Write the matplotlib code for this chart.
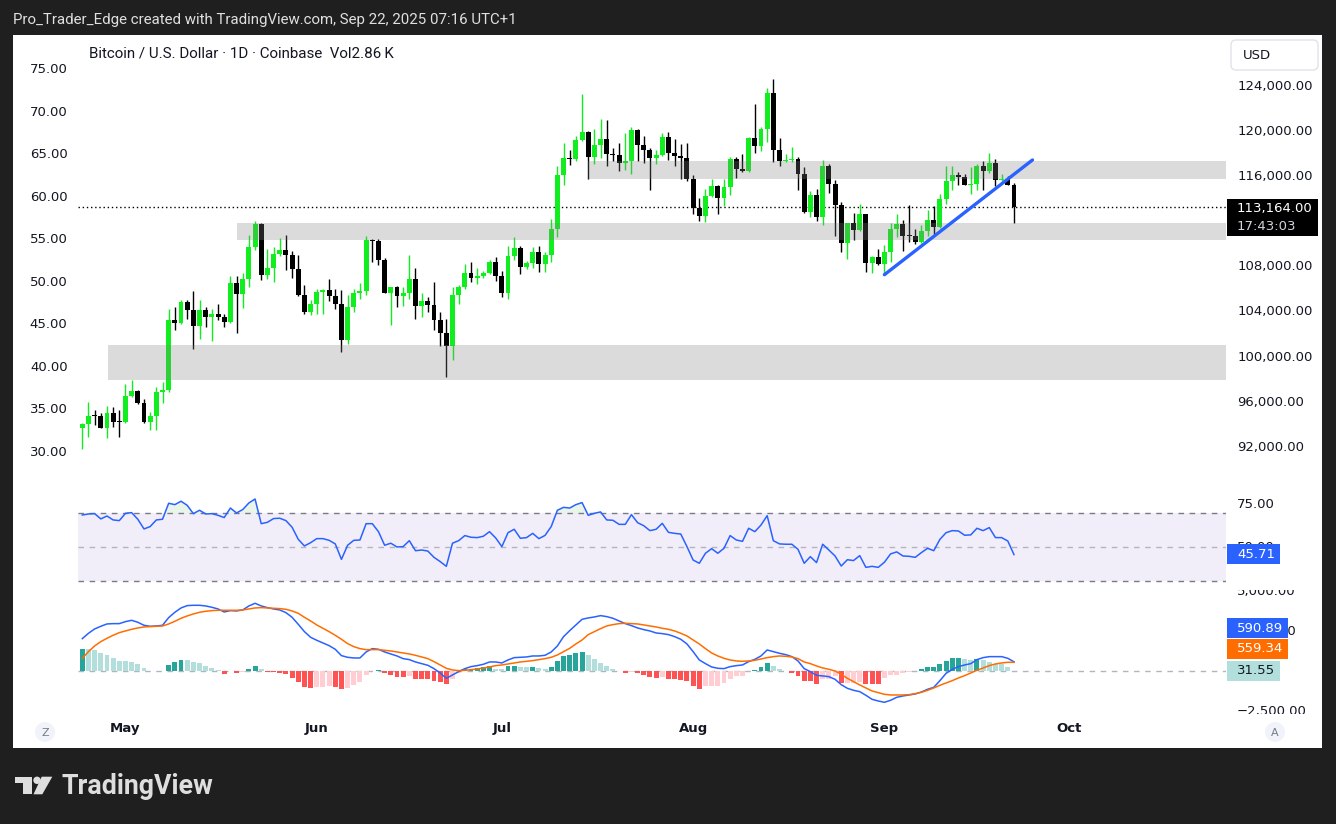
import datetime as dt
import numpy as np
import matplotlib
matplotlib.use("Agg")
import matplotlib.pyplot as plt
from matplotlib.patches import Rectangle, FancyBboxPatch, Circle, Polygon

# ---------------- data ----------------
start_date = dt.date(2025, 4, 24)

opens = [93610, 93930, 94640, 94620, 93610, 94910, 94230, 94120, 96420, 96830,
         95780, 94140, 94650, 96770, 96950, 103160, 102870, 104750, 104020, 102650,
         104020, 103420, 103690, 103420, 103010, 106440, 105490, 106800, 109630, 111670,
         107180, 107770, 109010, 109370, 108920, 107710, 105380, 103900, 104580, 105610,
         105860, 105320, 104610, 101410, 104310, 105550, 105730, 110250, 110200, 108510,
         105580, 106050, 105320, 105550, 106800, 104430, 104840, 104520, 103190, 102030,
         100880, 105380, 106090, 107330, 106910, 107060, 107330, 108330, 107090, 105580,
         108830, 109570, 107890, 108240, 109220, 108150, 108950, 111230, 116020, 117530,
         117440, 119120, 119830, 117650, 118680, 119210, 117910, 117760, 117080, 117260,
         120010, 118710, 118270, 117500, 117820, 119390, 117970, 117700, 117560, 115690,
         113120, 112410, 114160, 115040, 114010, 114960, 117440, 116580, 116380, 119300,
         118620, 120100, 123290, 118270, 117290, 117350, 117410, 116140, 112770, 114250,
         112330, 116820, 115250, 113390, 110000, 111760, 111140, 112560, 108240, 108750,
         108120, 109190, 111230, 111670, 110720, 110640, 110050, 111050, 112030, 111410,
         113890, 115480, 116020, 115870, 115130, 115250, 116820, 116380, 117080, 115600,
         115660, 115160]
highs = [94010, 95880, 95180, 94900, 95530, 95440, 95180, 97480, 97840, 96950,
         96180, 95000, 97240, 97700, 104130, 104310, 104930, 104930, 105730, 104930,
         104300, 104160, 104580, 103700, 107060, 107060, 107300, 110700, 111940, 111760,
         109430, 109660, 110400, 110700, 109300, 108900, 106300, 104930, 105900, 105920,
         106800, 105900, 105860, 105380, 105920, 106440, 110610, 110310, 110340, 108680,
         106100, 106170, 106110, 108920, 107770, 105550, 105200, 106530, 103900, 103280,
         106090, 106260, 108120, 108300, 107770, 107500, 108480, 108770, 107530, 109750,
         110520, 109750, 108390, 109630, 109720, 109220, 112120, 116820, 118860, 118240,
         119480, 123230, 119920, 120100, 120980, 120890, 118440, 118860, 119740, 120280,
         120100, 119480, 118440, 118270, 119740, 119830, 119210, 118750, 118860, 116020,
         113980, 114780, 115660, 115100, 115660, 117610, 117650, 117910, 119350, 122310,
         120300, 123730, 124530, 119300, 117910, 118530, 117610, 116730, 114600, 114780,
         117350, 117000, 115570, 113600, 111800, 112650, 113450, 112600, 108830, 109450,
         109810, 111760, 112560, 112030, 113360, 111230, 111610, 112950, 113270, 114340,
         116820, 116820, 116290, 116140, 116730, 117000, 117260, 117970, 117440, 116110,
         115930, 115310]
lows = [91690, 92810, 93850, 93560, 92720, 93700, 92800, 94000, 96350, 95700,
        94050, 93400, 93400, 95770, 96800, 102270, 102800, 103250, 100610, 101440,
        102560, 101300, 103130, 102560, 102920, 102030, 104190, 106120, 109370, 106700,
        106820, 106560, 108830, 107600, 106900, 105290, 103690, 103600, 103700, 103700,
        104870, 104160, 100350, 101060, 103900, 105020, 105380, 108330, 108060, 105520,
        102750, 104340, 104430, 105020, 103280, 103450, 103900, 102300, 100880, 98130,
        99640, 104600, 105910, 106560, 106380, 106850, 107230, 106650, 105230, 105050,
        108510, 107270, 107710, 107800, 107450, 107450, 108330, 110550, 115130, 116880,
        117260, 119030, 115690, 117030, 117500, 116850, 117230, 116370, 116460, 116140,
        117260, 117080, 114720, 117000, 117730, 117380, 116850, 115690, 115510, 112590,
        111970, 111880, 114040, 112590, 113300, 114280, 115780, 116290, 116290, 118000,
        118180, 118980, 117200, 116850, 117170, 117200, 114720, 112680, 112330, 111970,
        111620, 114460, 110640, 109190, 108570, 110250, 111080, 107420, 107360, 108030,
        107240, 108330, 110550, 109300, 110100, 109900, 110000, 110600, 110820, 111320,
        113420, 114720, 115130, 115100, 114340, 114720, 114720, 116170, 115040, 115480,
        115100, 111720]
closes = [93930, 94640, 94620, 93610, 94910, 94140, 94120, 96420, 96830, 95780,
          94140, 94650, 96770, 96950, 103160, 102870, 104750, 104020, 102650, 104020,
          103450, 103690, 103420, 103010, 106440, 105490, 106800, 109630, 111670, 107180,
          107770, 109010, 109370, 108920, 107710, 105380, 103900, 104580, 105610, 105860,
          105320, 104610, 101410, 104310, 105550, 105730, 110250, 110200, 108510, 105580,
          106050, 105320, 105550, 106800, 104430, 104840, 104520, 103190, 102030, 100880,
          105380, 106090, 107330, 106910, 107060, 107330, 108330, 107090, 105580, 108830,
          109570, 107890, 108240, 109220, 108150, 108950, 111230, 116020, 117530, 117440,
          119120, 119830, 117650, 118680, 119210, 117910, 117760, 117080, 117260, 120010,
          118710, 118270, 117500, 117820, 119390, 117970, 117700, 117560, 115690, 113120,
          112410, 114160, 115040, 114010, 114960, 117440, 116580, 116380, 119300, 118620,
          120100, 123290, 118270, 117290, 117350, 117410, 116140, 112770, 114250, 112330,
          116820, 115250, 113390, 110000, 111760, 111140, 112560, 108240, 108750, 108120,
          109190, 111230, 111670, 110640, 110640, 110050, 111050, 112030, 111410, 113890,
          115480, 116020, 115870, 115130, 115250, 116820, 116380, 117080, 115600, 115660,
          115160, 113164]

rsi = [69.0, 69.6, 69.8, 66.7, 68.4, 66.1, 65.7, 70.0, 70.4, 66.5,
       60.8, 62.2, 66.1, 66.5, 75.9, 75.1, 77.1, 74.7, 69.8, 71.8,
       69.6, 69.8, 68.8, 67.5, 73.1, 70.2, 72.2, 76.1, 78.4, 63.9,
       64.7, 66.9, 67.1, 65.7, 61.8, 54.7, 50.8, 52.7, 55.1, 55.1,
       54.1, 52.0, 42.9, 51.2, 54.1, 54.3, 63.9, 63.9, 59.2, 51.2,
       52.4, 50.2, 50.4, 53.9, 48.0, 48.4, 47.8, 44.1, 41.6, 38.8,
       52.4, 53.9, 56.9, 55.9, 55.7, 56.5, 59.2, 55.5, 50.4, 58.6,
       60.6, 55.3, 55.7, 58.2, 55.1, 57.0, 62.2, 71.8, 73.5, 73.1,
       75.1, 76.3, 68.8, 70.0, 70.8, 66.1, 65.9, 63.5, 63.5, 69.2,
       64.5, 62.7, 59.8, 60.6, 64.1, 58.8, 58.2, 57.8, 50.4, 42.5,
       40.6, 46.5, 49.2, 46.5, 49.4, 56.9, 54.3, 53.5, 61.2, 59.2,
       63.1, 68.6, 53.9, 52.0, 51.8, 51.8, 48.8, 40.6, 44.5, 41.0,
       51.8, 48.4, 44.9, 39.0, 42.7, 42.2, 45.1, 38.2, 38.8, 38.2,
       41.2, 46.1, 47.3, 44.9, 44.7, 44.1, 46.9, 49.4, 48.0, 54.7,
       58.6, 59.8, 59.6, 57.1, 57.3, 61.2, 59.8, 61.6, 55.7, 55.7,
       53.7, 45.71]

macd = [2034, 2367, 2637, 2803, 2948, 2969, 2969, 3093, 3176, 3052,
        2865, 2803, 2823, 2865, 3342, 3675, 3944, 4090, 4110, 4110,
        4069, 3986, 3882, 3695, 3778, 3758, 3820, 4069, 4235, 4069,
        3965, 3882, 3820, 3654, 3363, 2927, 2470, 2118, 1931, 1765,
        1599, 1370, 976, 872, 830, 830, 1204, 1412, 1370, 1204,
        1080, 955, 789, 727, 581, 477, 374, 166, -104, -436,
        -228, -21, 166, 291, 353, 436, 581, 581, 519, 706,
        851, 872, 893, 955, 955, 996, 1204, 1578, 2159, 2533,
        2886, 3239, 3322, 3384, 3467, 3405, 3301, 3135, 2969, 2844,
        2699, 2595, 2512, 2387, 2346, 2284, 2159, 1993, 1702, 1225,
        706, 477, 270, 187, 166, 291, 353, 394, 602, 747,
        955, 1329, 1225, 1121, 1038, 913, 644, 166, -21, -249,
        -291, -332, -498, -830, -1059, -1183, -1266, -1495, -1744, -1848,
        -1931, -1806, -1619, -1536, -1474, -1412, -1287, -1121, -996, -581,
        -125, 125, 291, 394, 477, 727, 851, 913, 913, 913,
        810, 590.89]

signal = [810, 1225, 1578, 1848, 2055, 2242, 2408, 2512, 2616, 2699,
          2761, 2782, 2803, 2823, 2948, 3114, 3301, 3446, 3571, 3675,
          3737, 3778, 3799, 3799, 3799, 3799, 3820, 3882, 3944, 3965,
          3944, 3924, 3903, 3861, 3758, 3612, 3363, 3135, 2886, 2678,
          2470, 2242, 1993, 1723, 1536, 1412, 1349, 1349, 1349, 1308,
          1266, 1204, 1142, 1080, 996, 893, 789, 602, 394, 187,
          83, 42, 62, 104, 145, 208, 270, 353, 394, 457,
          519, 581, 623, 664, 727, 789, 872, 1017, 1225, 1432,
          1702, 1951, 2284, 2470, 2657, 2823, 2906, 2969, 2990, 2969,
          2948, 2886, 2823, 2761, 2678, 2616, 2512, 2367, 2200, 1951,
          1702, 1412, 1142, 955, 810, 706, 644, 623, 644, 685,
          768, 851, 913, 955, 934, 893, 789, 581, 477, 332,
          208, 125, 21, -187, -436, -644, -851, -1038, -1225, -1329,
          -1432, -1474, -1474, -1474, -1453, -1391, -1308, -1183, -1038, -872,
          -727, -581, -415, -270, -104, 62, 208, 353, 457, 519,
          560, 559.34]

hist = [1370, 1370, 1308, 1142, 1017, 830, 644, 623, 581, 477,
        228, 42, 10, 20, 374, 581, 706, 690, 581, 498,
        353, 208, 104, -166, 20, -83, -20, 145, 332, 145,
        -21, -42, -83, -187, -394, -644, -955, -1038, -955, -950,
        -893, -955, -1100, -1017, -830, -664, -249, 21, 83, -125,
        -249, -332, -374, -311, -457, -457, -457, -602, -644, -768,
        -498, -125, 150, 170, 190, 270, 332, 166, 145, 332,
        353, 270, 270, 291, 208, 145, 291, 643, 955, 1017,
        1121, 1204, 1038, 768, 519, 332, 125, 42, -83, -42,
        -83, -228, -332, -394, -332, -457, -477, -560, -602, -913,
        -1100, -913, -905, -893, -747, -477, -311, -270, 42, 83,
        270, 519, 332, 125, 20, -125, -270, -602, -602, -768,
        -498, -490, -291, -747, -740, -706, -664, -789, -800, -810,
        -394, -249, -208, -83, -42, 42, 125, 270, 280, 457,
        623, 830, 840, 768, 685, 768, 685, 602, 457, 457,
        270, 31.55]

month_labels = ["May", "Jun", "Jul", "Aug", "Sep", "Oct"]
month_firsts = [dt.date(2025, m, 1) for m in range(5, 11)]

price_ticks = [92000, 96000, 100000, 104000, 108000, 112000, 116000, 120000, 124000]
left_ticks = [30, 35, 40, 45, 50, 55, 60, 65, 70, 75]
rsi_ticks = [75, 50]
macd_ticks = [5000, 2500, 0, -2500]

zone_start = [82, 25, 4.2]
zone_low = [115690, 110280, 97860]
zone_high = [117260, 111760, 100940]

trend_x = [130, 154]
trend_p = [107175, 117350]

last_price_text = "113,164.00"
countdown_text = "17:43:03"
rsi_last_text = "45.71"
macd_last_text = "590.89"
signal_last_text = "559.34"
hist_last_text = "31.55"

# ---------------- figure ----------------
W, H = 1336, 824
fig = plt.figure(figsize=(W / 100, H / 100), dpi=100)
fig.patch.set_facecolor("#1f1f1f")


def rect(x0, y0, x1, y1):
    return [x0 / W, 1 - y1 / H, (x1 - x0) / W, (y1 - y0) / H]


def fpx(x, y):
    return x / W, 1 - y / H


TXT = "#131722"
FS = 9.5

# background card
bg = fig.add_axes([0, 0, 1, 1], zorder=-5)
bg.set_xlim(0, W)
bg.set_ylim(H, 0)
bg.axis("off")
bg.add_patch(Rectangle((13, 35), 1309, 713, facecolor="white", edgecolor="none"))

x = np.arange(len(closes))
o = np.array(opens, float)
c = np.array(closes, float)
hi = np.array(highs, float)
lo = np.array(lows, float)

PX0, PX1 = 78, 1226
x0_idx = (PX0 - 82.3) / 6.17
x1_idx = (PX1 - 82.3) / 6.17

# ---- main price panel ----
MT, MB = 34, 490
ppp = 4000 / 45.1  # price per pixel

# left scale (separate axes)
axl = fig.add_axes(rect(PX0, MT, PX1, MB), zorder=0.5)
axl.set_facecolor("none")
axl.set_ylim(75 - (MB - 68) / 8.511, 75 + (68 - MT) / 8.511)
for s in axl.spines.values():
    s.set_visible(False)
axl.set_xticks([])
axl.set_yticks(left_ticks)
axl.set_yticklabels([f"{v:.2f}" for v in left_ticks])
axl.tick_params(axis="y", left=False, right=False, length=0, pad=7.5,
                labelsize=FS, labelcolor=TXT, labelleft=True, labelright=False)

ax = fig.add_axes(rect(PX0, MT, PX1, MB), zorder=1)
ax.set_facecolor("none")
ax.set_xlim(x0_idx, x1_idx)
ax.set_ylim(124000 - (MB - 85) * ppp, 124000 + (85 - MT) * ppp)
for s in ax.spines.values():
    s.set_visible(False)
ax.tick_params(axis="x", bottom=False, labelbottom=False)

up = c >= o
GREEN = "#10ee20"
col = np.where(up, GREEN, "#000000")
body_low = np.minimum(o, c)
body_h = np.maximum(np.abs(c - o), 90)
ax.vlines(x, lo, hi, colors=col, linewidth=1.0, zorder=2)
ax.bar(x, body_h, bottom=body_low, width=0.8, color=col, linewidth=0, zorder=2.1)

for xs, zl, zh in zip(zone_start, zone_low, zone_high):
    ax.add_patch(Rectangle((xs, zl), x1_idx - xs + 5, zh - zl,
                           facecolor=(0.5, 0.5, 0.5), alpha=0.28, edgecolor="none", zorder=3))

ax.axhline(c[-1], color="black", linestyle=(0, (1, 2)), linewidth=1.0, zorder=1.5)
ax.plot(trend_x, trend_p, color="#2962ff", linewidth=2.4, solid_capstyle="round", zorder=4)

ax.set_yticks(price_ticks)
ax.set_yticklabels([f"{v:,.2f}" for v in price_ticks])
ax.tick_params(axis="y", left=False, right=False, length=0, pad=8.3, labelsize=FS,
               labelcolor=TXT, labelleft=False, labelright=True)

# ---- RSI panel ----
RT, RB = 490, 590
axr = fig.add_axes(rect(PX0, RT, PX1, RB), zorder=1)
axr.set_facecolor("none")
axr.set_xlim(x0_idx, x1_idx)
rpp = 1.7
axr.set_ylim(50 - (RB - 547.3) / rpp, 50 + (547.3 - RT) / rpp)
axr.axis("off")
axr.axhspan(30, 70, color="#f2eef9", zorder=0, linewidth=0)
axr.axhline(70, color="#787b86", linestyle=(0, (4, 4)), linewidth=1.0, zorder=1)
axr.axhline(30, color="#787b86", linestyle=(0, (4, 4)), linewidth=1.0, zorder=1)
axr.axhline(50, color="#b2b5be", linestyle=(0, (4, 4)), linewidth=1.0, zorder=1)
r = np.array(rsi)
axr.fill_between(x, r, 70, where=r >= 70, interpolate=True, color="#4caf50", alpha=0.12,
                 linewidth=0, zorder=1.5)
axr.plot(x, r, color="#2962ff", linewidth=1.1, zorder=2)

# ---- MACD panel ----
KT, KB = 590, 714
axm = fig.add_axes(rect(PX0, KT, PX1, KB), zorder=1)
axm.set_facecolor("none")
axm.set_xlim(x0_idx, x1_idx)
mpp = 5000 / (671.3 - 591)
axm.set_ylim(-(KB - 671.3) * mpp, (671.3 - KT) * mpp)
for s in axm.spines.values():
    s.set_visible(False)
axm.tick_params(axis="y", left=False, labelleft=False)
hv = np.array(hist, float)
prev = np.concatenate([[hv[0] - 1], hv[:-1]])
hcol = np.where(hv >= 0, np.where(hv > prev, "#26a69a", "#b2dfdb"),
                np.where(hv > prev, "#ffcdd2", "#ff5252"))
axm.axhline(0, color="#b2b5be", linestyle=(0, (4, 4)), linewidth=1.0, zorder=0)
axm.bar(x, hv, width=0.8, color=hcol, linewidth=0, zorder=1)
axm.plot(x, macd, color="#2962ff", linewidth=1.1, zorder=2)
axm.plot(x, signal, color="#ff6d00", linewidth=1.1, zorder=2)

tick_pos = [(d - start_date).days for d in month_firsts]
axm.set_xticks(tick_pos)
axm.set_xticklabels(month_labels)
axm.tick_params(axis="x", length=0, pad=6.0, labelsize=FS, labelcolor=TXT)
for t in axm.get_xticklabels():
    t.set_fontweight("bold")


# ---- right-scale label columns (clipped) ----
def label_column(top, bot, ylim, ticks, fmt):
    la = fig.add_axes(rect(PX1, top, 1322, bot), zorder=2)
    la.set_xlim(0, 96)
    la.set_ylim(*ylim)
    la.axis("off")
    for v in ticks:
        t = la.text(11, v, fmt(v), ha="left", va="center", fontsize=FS, color=TXT)
        t.set_clip_on(True)
        t.set_clip_box(la.bbox)
    return la


label_column(RT, RB, axr.get_ylim(), rsi_ticks, lambda v: f"{v:.2f}")
label_column(KT, KB, axm.get_ylim(), macd_ticks,
             lambda v: f"{v:,.2f}".replace("-", "\u2212"))

# ---- overlay (pixel coordinates) ----
ov = fig.add_axes([0, 0, 1, 1], zorder=10)
ov.set_xlim(0, W)
ov.set_ylim(H, 0)
ov.axis("off")
ov.patch.set_alpha(0)

# USD box
ov.add_patch(FancyBboxPatch((1231, 40), 87, 30, boxstyle="round,pad=0,rounding_size=5",
                            facecolor="white", edgecolor="#e0e3eb", linewidth=1))
ov.text(1243, 55, "USD", fontsize=FS, color=TXT, ha="left", va="center")

# last price label
ov.add_patch(Rectangle((1227, 199), 91, 37, facecolor="black", edgecolor="none"))
ov.text(1237, 208.5, last_price_text, fontsize=FS, color="white", ha="left", va="center")
ov.text(1237, 226, countdown_text, fontsize=FS, color="#d1d4dc", ha="left", va="center")


# RSI / MACD value labels
def vlabel(x0, y0, w, h, fc, tc, s):
    ov.add_patch(Rectangle((x0, y0), w, h, facecolor=fc, edgecolor="none"))
    ov.text(x0 + 10, y0 + h / 2, s, fontsize=FS, color=tc, ha="left", va="center")


vlabel(1227, 544, 53, 20, "#2962ff", "white", rsi_last_text)
vlabel(1227, 618, 61, 20, "#2962ff", "white", macd_last_text)
vlabel(1227, 639, 61, 20, "#ff6d00", "white", signal_last_text)
vlabel(1227, 661, 53, 20, "#b2dfdb", TXT, hist_last_text)

# corner buttons
for cx, s in [(45, "Z"), (1275, "A")]:
    ov.add_patch(Circle((cx, 732), 10, facecolor="#f0f3fa", edgecolor="none"))
    ov.text(cx, 732.5, s, fontsize=8, color="#787b86", ha="center", va="center")

# header / title texts
fig.text(*fpx(13, 20), "Pro_Trader_Edge created with TradingView.com, Sep 22, 2025 07:16 UTC+1",
         fontsize=10.8, color="#e0e0e0", ha="left", va="center",
         family=["Roboto", "DejaVu Sans"])
fig.text(*fpx(89, 54), "Bitcoin / U.S. Dollar \u00b7 1D \u00b7 Coinbase  Vol2.86\u2009K",
         fontsize=10.9, color=TXT, ha="left", va="center",
         family=["Roboto", "DejaVu Sans"])

# TradingView logo
logo_c = "#dedede"
ov.add_patch(Polygon([(15, 776.7), (31.7, 776.7), (31.7, 794.3), (23.3, 794.3),
                      (23.3, 783.3), (15, 783.3)], closed=True, facecolor=logo_c, edgecolor="none"))
ov.add_patch(Circle((37, 780.3), 3.7, facecolor=logo_c, edgecolor="none"))
ov.add_patch(Polygon([(41.7, 776.7), (52.3, 776.7), (42.3, 794.3), (33.5, 794.3)],
                     closed=True, facecolor=logo_c, edgecolor="none"))
ov.text(61.5, 786, "TradingView", fontsize=19.3, color=logo_c, ha="left", va="center",
        fontweight="bold", family=["Roboto", "DejaVu Sans"])

fig.savefig("out.png", dpi=100, facecolor=fig.get_facecolor())
